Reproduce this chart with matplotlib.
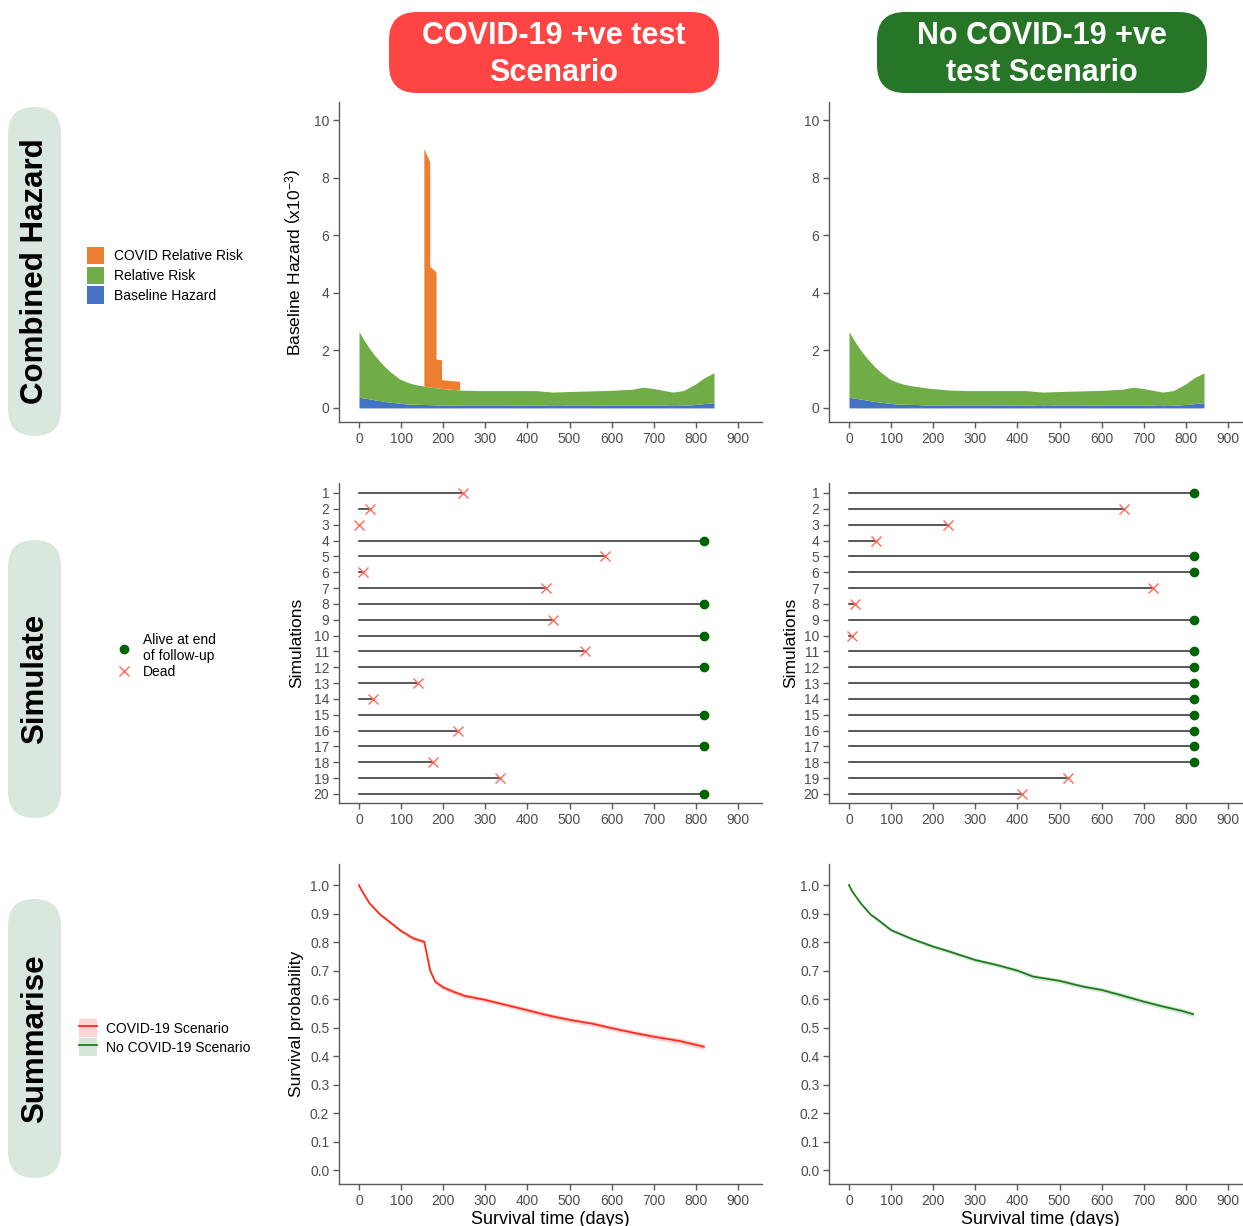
import numpy as np
import matplotlib
matplotlib.use('Agg')
import matplotlib.pyplot as plt
from matplotlib.patches import FancyBboxPatch, Patch
from matplotlib.lines import Line2D

plt.rcParams['font.family'] = ['Liberation Sans', 'DejaVu Sans']
plt.rcParams['mathtext.fontset'] = 'custom'
plt.rcParams['mathtext.rm'] = 'Liberation Sans'
plt.rcParams['mathtext.it'] = 'Liberation Sans:italic'

# ---------------- data ----------------
# hazard curves (x10^-3), cumulative stacked tops
haz_t = [0, 13, 26, 38, 50, 62, 74, 86, 97, 110, 121, 137, 153, 172, 192, 215, 240,
         287, 350, 400, 420, 460, 500, 550, 600, 650, 675, 700, 745, 770, 800, 820, 843]
base_top = [0.37, 0.34, 0.31, 0.28, 0.25, 0.22, 0.20, 0.18, 0.16, 0.14, 0.13, 0.125,
            0.12, 0.11, 0.10, 0.10, 0.09, 0.09, 0.09, 0.10, 0.10, 0.08, 0.09, 0.09,
            0.10, 0.10, 0.10, 0.10, 0.08, 0.09, 0.12, 0.15, 0.18]
rr_top = [2.65, 2.33, 2.04, 1.81, 1.61, 1.42, 1.26, 1.12, 1.00, 0.92, 0.86, 0.80,
          0.76, 0.72, 0.68, 0.65, 0.62, 0.60, 0.60, 0.60, 0.60, 0.55, 0.57, 0.59,
          0.61, 0.65, 0.72, 0.67, 0.55, 0.60, 0.84, 1.05, 1.22]
covid_haz_t = [154, 168, 168, 183, 183, 196, 196, 239]
covid_haz_top = [9.02, 8.55, 4.92, 4.72, 1.70, 1.67, 0.98, 0.92]

# simulations: time (days) and status (1 = dead, 0 = alive at end of follow-up)
sim_ids = list(range(1, 21))
covid_sim_time = [248, 27, 1, 820, 585, 10, 445, 820, 461, 820, 536, 820, 140, 33,
                  820, 236, 820, 176, 335, 820]
covid_sim_dead = [1, 1, 1, 0, 1, 1, 1, 0, 1, 0, 1, 0, 1, 1, 0, 1, 0, 1, 1, 0]
nocovid_sim_time = [820, 652, 236, 64, 820, 820, 721, 14, 820, 8, 820, 820, 820, 820,
                    820, 820, 820, 820, 521, 411]
nocovid_sim_dead = [0, 1, 1, 1, 0, 0, 1, 1, 0, 1, 0, 0, 0, 0, 0, 0, 0, 0, 1, 1]

# survival curves
covid_t = [0, 6, 25, 50, 82, 100, 129, 155, 169, 181, 200, 224, 249, 300, 350, 400,
           445, 500, 556, 600, 651, 700, 761, 819]
covid_s = [1.0, 0.982, 0.936, 0.897, 0.86, 0.839, 0.813, 0.801, 0.70, 0.661, 0.641,
           0.626, 0.612, 0.597, 0.579, 0.561, 0.544, 0.527, 0.513, 0.498, 0.482,
           0.468, 0.453, 0.433]
covid_ci = [0.0, 0.002, 0.004, 0.005, 0.006, 0.006, 0.007, 0.007, 0.008, 0.008,
            0.008, 0.008, 0.008, 0.008, 0.008, 0.009, 0.009, 0.009, 0.009, 0.009,
            0.009, 0.010, 0.010, 0.010]
nocovid_t = [0, 8, 28, 51, 67, 100, 146, 200, 240, 300, 350, 400, 437, 500, 555, 600,
             650, 700, 745, 792, 817]
nocovid_s = [1.0, 0.977, 0.936, 0.897, 0.88, 0.842, 0.813, 0.784, 0.766, 0.737, 0.72,
             0.70, 0.679, 0.664, 0.644, 0.632, 0.612, 0.591, 0.574, 0.558, 0.547]
nocovid_ci = [0.0, 0.002, 0.004, 0.005, 0.005, 0.006, 0.006, 0.007, 0.007, 0.007,
              0.007, 0.008, 0.008, 0.008, 0.008, 0.008, 0.009, 0.009, 0.009, 0.009,
              0.009]

x_ticks = list(range(0, 1000, 100))
haz_ticks = [0, 2, 4, 6, 8, 10]
surv_ticks = [0.0, 0.1, 0.2, 0.3, 0.4, 0.5, 0.6, 0.7, 0.8, 0.9, 1.0]

# ---------------- styling ----------------
ORANGE, GREEN, BLUE = '#ED7D31', '#70AD47', '#4472C4'
ALIVE, DEAD = '#006400', '#FF6A5A'
RED_LINE, GREEN_LINE = '#FF2A1A', '#1F7A1F'
RED_BAND, GREEN_BAND = '#FFD3D3', '#D5E8D5'
PILL = '#D9E7DF'
AX_COL = '#5a5a5a'

W, H = 1243, 1226
fig = plt.figure(figsize=(W / 100, H / 100), dpi=100)


def px_axes(x0, y0, x1, y1):
    return fig.add_axes([x0 / W, 1 - y1 / H, (x1 - x0) / W, (y1 - y0) / H])


def style(ax):
    for s in ['top', 'right']:
        ax.spines[s].set_visible(False)
    for s in ['left', 'bottom']:
        ax.spines[s].set_color(AX_COL)
        ax.spines[s].set_linewidth(1.0)
    ax.tick_params(colors=AX_COL, labelcolor='#4d4d4d', labelsize=10,
                   length=4.5, width=1.0, pad=2.5)
    ax.set_xticks(x_ticks)


# background overlay (pixel coordinates)
bg = fig.add_axes([0, 0, 1, 1], zorder=-5)
bg.set_xlim(0, W)
bg.set_ylim(H, 0)
bg.axis('off')

for (y0, y1, label) in [(107, 436, 'Combined Hazard'), (540, 818, 'Simulate'),
                        (899, 1178, 'Summarise')]:
    bg.add_patch(FancyBboxPatch((8, y0), 53, y1 - y0,
                                boxstyle='round,pad=0,rounding_size=26.5',
                                fc=PILL, ec='none'))
    bg.text(35, (y0 + y1) / 2, label, rotation=90, ha='center', va='center',
            fontsize=22.5, fontweight='bold', color='black')

for (x0, col, label) in [(389, '#FF4444', 'COVID-19 +ve test\nScenario'),
                         (877, '#277527', 'No COVID-19 +ve\ntest Scenario')]:
    bg.add_patch(FancyBboxPatch((x0, 12), 330, 81,
                                boxstyle='round,pad=0,rounding_size=28',
                                fc=col, ec='none'))
    bg.text(x0 + 165, 54.5, label, ha='center', va='center', color='white',
            fontsize=22, fontweight='bold', linespacing=1.31)

XL = (-47.5, 957)
cols = [(339, 762), (829, 1252)]

# ---------------- row 1: hazard ----------------
for ci, (x0, x1) in enumerate(cols):
    ax = px_axes(x0, 102, x1, 422)
    style(ax)
    ax.fill_between(haz_t, 0, base_top, color=BLUE, lw=0)
    ax.fill_between(haz_t, base_top, rr_top, color=GREEN, lw=0)
    if ci == 0:
        bottom = np.interp(covid_haz_t, haz_t, rr_top)
        ax.fill_between(covid_haz_t, bottom, covid_haz_top, color=ORANGE, lw=0)
        ax.set_ylabel(r'Baseline Hazard $\left(\mathregular{x10^{-3}}\right)$',
                      fontsize=12.5)
        ax.yaxis.set_label_coords(-0.083, 0.5)
    ax.set_xlim(*XL)
    ax.set_ylim(-0.49, 10.63)
    ax.set_yticks(haz_ticks)

# ---------------- row 2: simulate ----------------
for ci, (x0, x1) in enumerate(cols):
    ax = px_axes(x0, 483, x1, 803)
    style(ax)
    times = np.array([covid_sim_time, nocovid_sim_time][ci])
    dead = np.array([covid_sim_dead, nocovid_sim_dead][ci]).astype(bool)
    ids = np.array(sim_ids)
    for i, t in zip(ids, times):
        ax.plot([0, t], [i, i], color='#2b2b2b', lw=1.1, zorder=1)
    ax.plot(times[~dead], ids[~dead], 'o', color=ALIVE, ms=6, zorder=3)
    ax.plot(times[dead], ids[dead], 'x', color=DEAD, ms=6.5, mew=1.0, zorder=3)
    ax.set_xlim(*XL)
    ax.set_ylim(20.57, 0.37)
    ax.set_yticks(sim_ids)
    ax.set_ylabel('Simulations', fontsize=12.5)
    ax.yaxis.set_label_coords(-0.083 if ci == 0 else -0.072, 0.5)

# ---------------- row 3: summarise ----------------
for ci, (x0, x1) in enumerate(cols):
    ax = px_axes(x0, 864, x1, 1184)
    style(ax)
    t = np.array([covid_t, nocovid_t][ci])
    s = np.array([covid_s, nocovid_s][ci])
    c = np.array([covid_ci, nocovid_ci][ci])
    band = [RED_BAND, GREEN_BAND][ci]
    line = [RED_LINE, GREEN_LINE][ci]
    ax.fill_between(t, s - c, s + c, color=band, lw=0)
    ax.plot(t, s, color=line, lw=1.3)
    ax.set_xlim(*XL)
    ax.set_ylim(-0.049, 1.074)
    ax.set_yticks(surv_ticks)
    ax.set_yticklabels([f'{v:.1f}' for v in surv_ticks])
    ax.set_xlabel('Survival time (days)', fontsize=13)
    ax.xaxis.set_label_coords(0.5, -0.085)
    if ci == 0:
        ax.set_ylabel('Survival probability', fontsize=12.5)
        ax.yaxis.set_label_coords(-0.083, 0.5)

# ---------------- legends ----------------
haz_handles = [Patch(fc=ORANGE, ec='none'), Patch(fc=GREEN, ec='none'),
               Patch(fc=BLUE, ec='none')]
fig.legend(haz_handles, ['COVID Relative Risk', 'Relative Risk', 'Baseline Hazard'],
           loc='upper left', bbox_to_anchor=(87 / W, 1 - 247 / H), frameon=False,
           fontsize=10, handlelength=1.2, handleheight=1.56, handletextpad=0.75,
           labelspacing=0.16, borderpad=0, borderaxespad=0)

sim_handles = [Line2D([], [], ls='none', marker='o', color=ALIVE, ms=6),
               Line2D([], [], ls='none', marker='x', color=DEAD, ms=6.5, mew=1.0)]
fig.legend(sim_handles, ['Alive at end\nof follow-up', 'Dead'],
           loc='upper left', bbox_to_anchor=(116 / W, 1 - 633 / H), frameon=False,
           fontsize=10, handlelength=1.15, handletextpad=0.8,
           labelspacing=0.1, borderpad=0, borderaxespad=0)

sum_handles = [(Patch(fc=RED_BAND, ec='none'), Line2D([], [], color=RED_LINE, lw=1.3)),
               (Patch(fc=GREEN_BAND, ec='none'), Line2D([], [], color=GREEN_LINE, lw=1.3))]
fig.legend(sum_handles, ['COVID-19 Scenario', 'No COVID-19 Scenario'],
           loc='upper left', bbox_to_anchor=(79 / W, 1 - 1019 / H), frameon=False,
           fontsize=10, handlelength=1.3, handleheight=1.62, handletextpad=0.65,
           labelspacing=0.07, borderpad=0, borderaxespad=0)

fig.savefig('out.png', dpi=100)
